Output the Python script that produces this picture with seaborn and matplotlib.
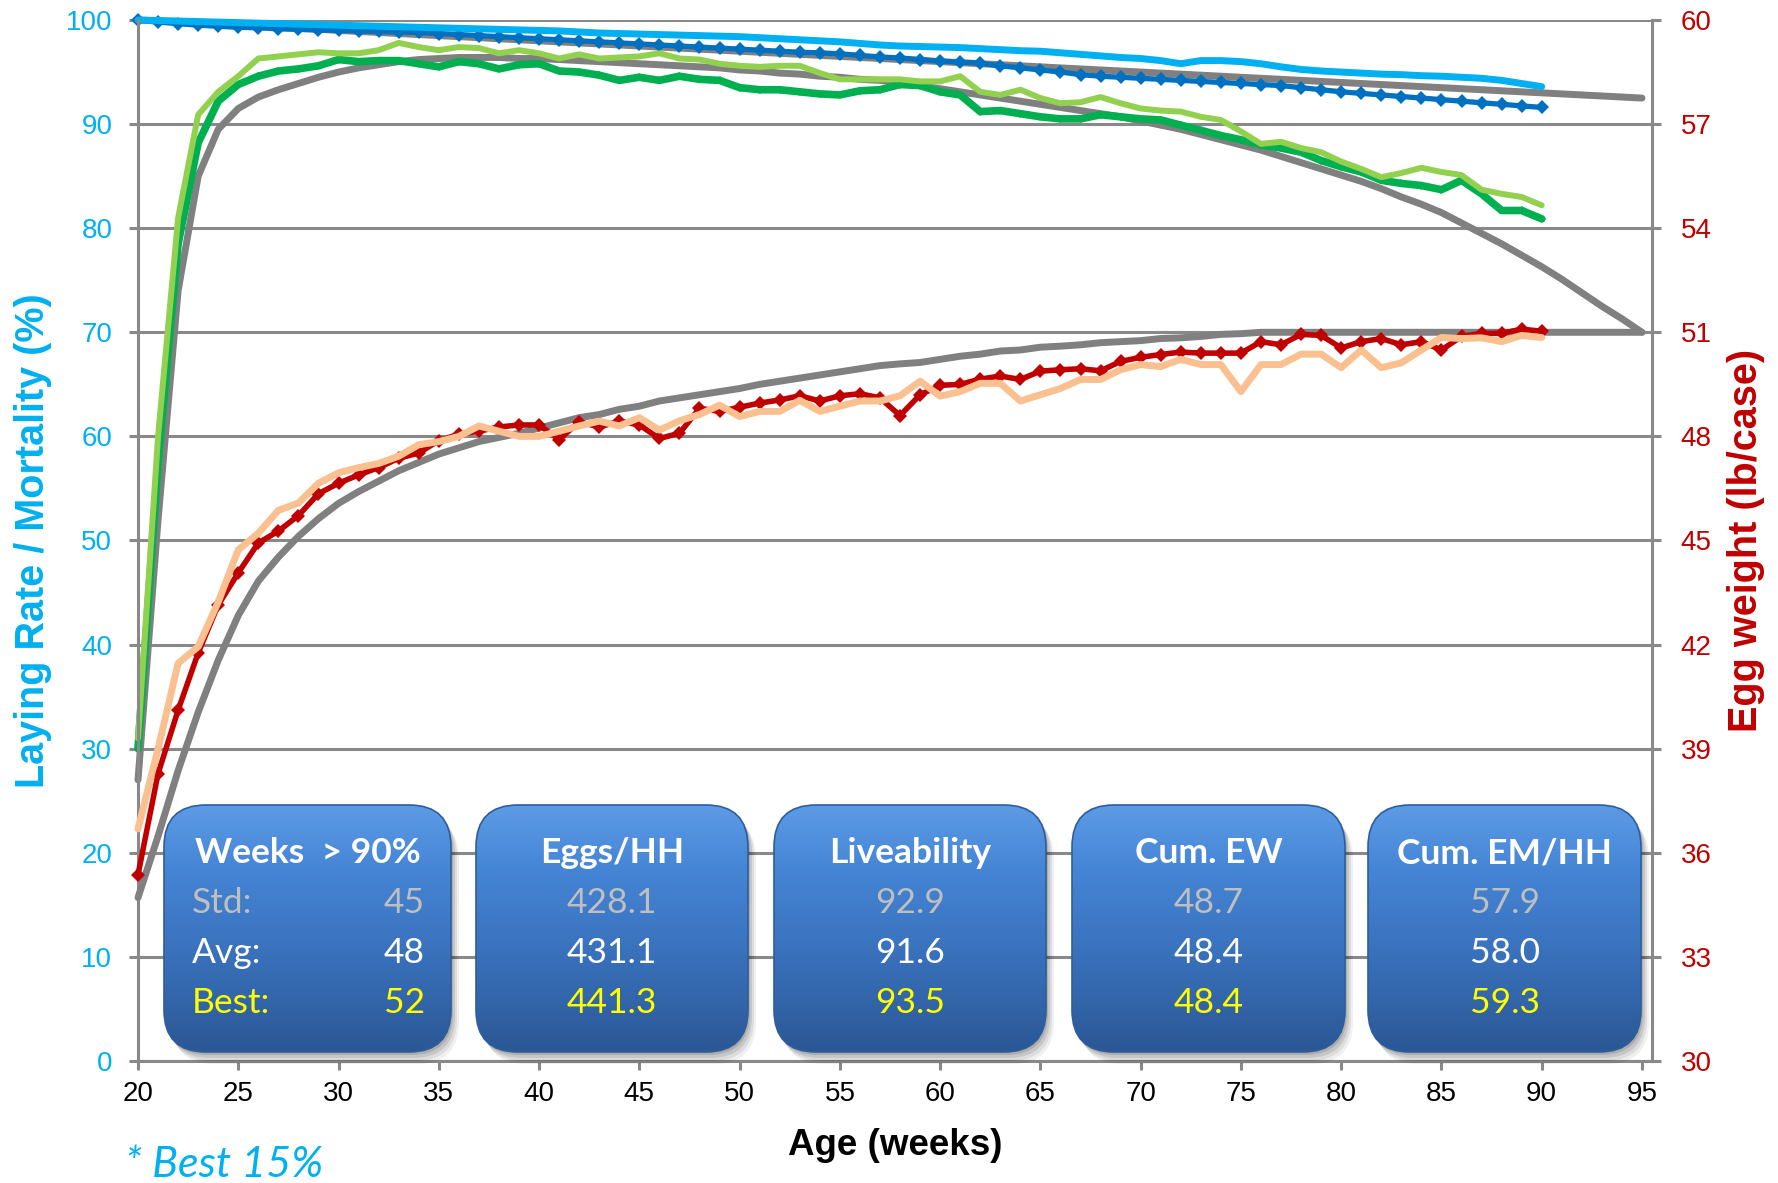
import numpy as np
import pandas as pd
import seaborn as sns
import matplotlib.pyplot as plt
from matplotlib.patches import FancyBboxPatch
from matplotlib.colors import LinearSegmentedColormap

# ages (weeks): flock data 20-90, standards 20-95
weeks = list(range(20, 91))
std_weeks = list(range(20, 96))

# laying rate (%)
lay_avg = [30.0, 57.5, 78.5, 88.2, 92.2, 93.8, 94.6, 95.1, 95.3, 95.6,
           96.2, 96.0, 96.1, 96.1, 95.8, 95.5, 96.0, 95.8, 95.3, 95.7,
           95.8, 95.1, 95.0, 94.7, 94.2, 94.5, 94.2, 94.6, 94.3, 94.2,
           93.5, 93.3, 93.3, 93.1, 92.9, 92.8, 93.2, 93.3, 93.8, 93.7,
           93.1, 92.8, 91.2, 91.3, 91.0, 90.7, 90.5, 90.5, 90.9, 90.7,
           90.5, 90.4, 89.9, 89.4, 88.9, 88.5, 88.0, 87.7, 87.3, 86.5,
           85.9, 85.4, 84.6, 84.3, 84.1, 83.7, 84.6, 83.3, 81.7, 81.7,
           80.9]
lay_best = [31.0, 60.0, 81.0, 90.9, 93.1, 94.6, 96.3, 96.5, 96.7, 96.9,
            96.8, 96.8, 97.1, 97.8, 97.4, 97.1, 97.4, 97.3, 96.8, 97.1,
            96.8, 96.3, 96.7, 96.3, 96.4, 96.5, 96.8, 96.3, 96.2, 95.8,
            95.6, 95.5, 95.6, 95.6, 94.9, 94.3, 94.3, 94.3, 94.3, 94.1,
            94.1, 94.6, 93.1, 92.8, 93.3, 92.5, 92.0, 92.1, 92.6, 92.0,
            91.5, 91.3, 91.2, 90.7, 90.4, 89.3, 88.1, 88.3, 87.7, 87.3,
            86.4, 85.7, 84.9, 85.3, 85.8, 85.4, 85.1, 83.7, 83.3, 83.0,
            82.2]
lay_std = [27.0, 52.0, 74.0, 85.0, 89.5, 91.5, 92.6, 93.3, 93.9, 94.5,
           95.0, 95.4, 95.7, 96.0, 96.2, 96.3, 96.4, 96.4, 96.4, 96.3,
           96.3, 96.2, 96.1, 96.0, 95.9, 95.8, 95.7, 95.6, 95.5, 95.4,
           95.2, 95.1, 94.9, 94.8, 94.6, 94.5, 94.3, 94.2, 94.0, 93.7,
           93.4, 93.1, 92.8, 92.5, 92.2, 91.9, 91.6, 91.3, 91.0, 90.7,
           90.3, 89.9, 89.5, 89.0, 88.5, 88.0, 87.5, 86.9, 86.3, 85.7,
           85.1, 84.5, 83.8, 83.0, 82.3, 81.5, 80.5, 79.5, 78.5, 77.4,
           76.3, 75.1, 73.8, 72.5, 71.3, 70.0]

# liveability (%)
live_avg = [100.0, 99.8, 99.65, 99.5, 99.4, 99.3, 99.25, 99.15, 99.1, 99.05,
            99.0, 98.95, 98.9, 98.85, 98.8, 98.7, 98.6, 98.5, 98.4, 98.3,
            98.2, 98.1, 98.0, 97.9, 97.8, 97.7, 97.6, 97.5, 97.4, 97.3,
            97.2, 97.1, 97.0, 96.9, 96.85, 96.75, 96.6, 96.45, 96.35, 96.2,
            96.05, 95.95, 95.85, 95.6, 95.4, 95.2, 95.0, 94.75, 94.6, 94.5,
            94.4, 94.3, 94.2, 94.1, 94.0, 93.9, 93.8, 93.7, 93.5, 93.3,
            93.1, 92.95, 92.8, 92.65, 92.5, 92.35, 92.2, 92.05, 91.9, 91.75,
            91.6]
live_best = [100.0, 99.95, 99.9, 99.85, 99.8, 99.75, 99.7, 99.65, 99.6, 99.55,
             99.5, 99.45, 99.4, 99.35, 99.3, 99.25, 99.2, 99.15, 99.1, 99.05,
             99.0, 98.95, 98.85, 98.75, 98.7, 98.65, 98.6, 98.55, 98.5, 98.45,
             98.4, 98.3, 98.2, 98.1, 98.0, 97.9, 97.75, 97.6, 97.5, 97.45,
             97.4, 97.35, 97.25, 97.15, 97.05, 97.0, 96.85, 96.7, 96.55, 96.4,
             96.3, 96.1, 95.8, 96.1, 96.1, 96.0, 95.8, 95.5, 95.25, 95.1,
             95.0, 94.9, 94.8, 94.75, 94.65, 94.6, 94.5, 94.4, 94.2, 93.9,
             93.6]
live_std = [100.0, 99.9, 99.8, 99.7, 99.6, 99.5, 99.4, 99.3, 99.2, 99.1,
            99.0, 98.9, 98.8, 98.7, 98.6, 98.5, 98.4, 98.3, 98.2, 98.1,
            98.0, 97.9, 97.8, 97.7, 97.6, 97.5, 97.4, 97.3, 97.2, 97.1,
            97.0, 96.9, 96.8, 96.7, 96.6, 96.5, 96.4, 96.3, 96.2, 96.1,
            96.0, 95.9, 95.8, 95.7, 95.6, 95.5, 95.4, 95.3, 95.2, 95.1,
            95.0, 94.9, 94.8, 94.7, 94.6, 94.5, 94.4, 94.3, 94.2, 94.1,
            94.0, 93.9, 93.8, 93.7, 93.6, 93.5, 93.4, 93.3, 93.2, 93.1,
            93.0, 92.9, 92.8, 92.7, 92.6, 92.5]

# egg weight (lb/case)
ew_avg = [35.37, 38.28, 40.11, 41.76, 43.14, 44.07, 44.93, 45.27, 45.72, 46.35,
          46.65, 46.89, 47.10, 47.37, 47.52, 47.88, 48.06, 48.15, 48.27, 48.33,
          48.33, 47.91, 48.42, 48.27, 48.44, 48.33, 47.94, 48.09, 48.81, 48.72,
          48.84, 48.96, 49.05, 49.17, 49.02, 49.17, 49.23, 49.11, 48.60, 49.20,
          49.47, 49.50, 49.65, 49.74, 49.64, 49.88, 49.92, 49.95, 49.89, 50.16,
          50.28, 50.36, 50.43, 50.40, 50.40, 50.40, 50.73, 50.64, 50.94, 50.91,
          50.55, 50.73, 50.82, 50.64, 50.73, 50.49, 50.88, 50.97, 50.97, 51.09,
          51.03]
ew_best = [36.69, 39.00, 41.46, 41.94, 43.23, 44.73, 45.21, 45.87, 46.08, 46.65,
           46.95, 47.10, 47.22, 47.43, 47.76, 47.85, 48.00, 48.30, 48.15, 48.00,
           48.00, 48.15, 48.30, 48.44, 48.30, 48.54, 48.18, 48.45, 48.63, 48.90,
           48.57, 48.72, 48.72, 49.04, 48.72, 48.87, 49.02, 49.02, 49.17, 49.59,
           49.16, 49.29, 49.53, 49.53, 49.02, 49.20, 49.38, 49.64, 49.64, 49.92,
           50.07, 50.01, 50.22, 50.07, 50.07, 49.29, 50.07, 50.07, 50.37, 50.37,
           49.98, 50.49, 49.98, 50.12, 50.49, 50.85, 50.82, 50.84, 50.73, 50.91,
           50.85]
ew_std = [34.71, 36.48, 38.37, 40.05, 41.55, 42.84, 43.83, 44.52, 45.12, 45.63,
          46.07, 46.41, 46.71, 47.01, 47.25, 47.49, 47.67, 47.85, 47.97, 48.09,
          48.24, 48.39, 48.54, 48.63, 48.78, 48.87, 49.02, 49.11, 49.20, 49.29,
          49.38, 49.50, 49.59, 49.68, 49.77, 49.86, 49.95, 50.04, 50.09, 50.13,
          50.22, 50.31, 50.37, 50.46, 50.49, 50.57, 50.60, 50.64, 50.70, 50.73,
          50.76, 50.82, 50.84, 50.88, 50.94, 50.96, 51.00, 51.00, 51.00, 51.00,
          51.00, 51.00, 51.00, 51.00, 51.00, 51.00, 51.00, 51.00, 51.00, 51.00,
          51.00, 51.00, 51.00, 51.00, 51.00, 51.00]

# summary boxes
box_titles = ["Weeks  > 90%", "Eggs/HH", "Liveability", "Cum. EW", "Cum. EM/HH"]
box_std = ["45", "428.1", "92.9", "48.7", "57.9"]
box_avg = ["48", "431.1", "91.6", "48.4", "58.0"]
box_best = ["52", "441.3", "93.5", "48.4", "59.3"]
row_names = ["Std:", "Avg:", "Best:"]

df = pd.DataFrame({"week": weeks, "lay_avg": lay_avg, "lay_best": lay_best,
                   "live_avg": live_avg, "live_best": live_best,
                   "ew_avg": ew_avg, "ew_best": ew_best})
dfs = pd.DataFrame({"week": std_weeks, "lay_std": lay_std,
                    "live_std": live_std, "ew_std": ew_std})

sns.set_style("white")
plt.rcParams['font.family'] = ['Liberation Sans', 'DejaVu Sans']

GREY = '#808080'
AXG = '#898989'
CYAN = '#00B0F0'
DRED = '#C00000'

fig = plt.figure(figsize=(17.78, 11.83), dpi=100)
ax = fig.add_axes([0.07762, 0.10313, 0.85152, 0.87997])
ax2 = ax.twinx()

# left axis: liveability and laying rate
sns.lineplot(data=dfs, x="week", y="live_std", ax=ax, color=GREY, lw=5, clip_on=False)
sns.lineplot(data=dfs, x="week", y="lay_std", ax=ax, color=GREY, lw=5, clip_on=False)
sns.lineplot(data=df, x="week", y="live_avg", ax=ax, color='#0070C0', lw=3.8,
             marker='D', markersize=7, markeredgewidth=0, clip_on=False)
sns.lineplot(data=df, x="week", y="live_best", ax=ax, color=CYAN, lw=5, clip_on=False)
sns.lineplot(data=df, x="week", y="lay_avg", ax=ax, color='#00B050', lw=5.5,
             marker='D', markersize=4.5, markeredgewidth=0, clip_on=False)
sns.lineplot(data=df, x="week", y="lay_best", ax=ax, color='#92D050', lw=4.3, clip_on=False)

# right axis: egg weight
sns.lineplot(data=dfs, x="week", y="ew_std", ax=ax2, color=GREY, lw=5, clip_on=False)
sns.lineplot(data=df, x="week", y="ew_avg", ax=ax2, color=DRED, lw=4,
             marker='D', markersize=7.5, markeredgewidth=0, clip_on=False)
sns.lineplot(data=df, x="week", y="ew_best", ax=ax2, color='#FAC090', lw=5, clip_on=False)

ax.set_xlim(20, 95.5)
ax.set_ylim(0, 100)
ax2.set_ylim(30, 60)
ax.set_xticks(range(20, 96, 5))
ax.set_yticks(range(0, 101, 10))
ax2.set_yticks(range(30, 61, 3))

ax.grid(axis='y', color=AXG, lw=2.2)
ax.grid(axis='x', visible=False)
ax.set_axisbelow(True)

for s in ['top', 'right']:
    ax.spines[s].set_visible(False)
for s in ['left', 'bottom']:
    ax.spines[s].set_color(AXG)
    ax.spines[s].set_linewidth(2.2)
for s in ['top', 'left', 'bottom']:
    ax2.spines[s].set_visible(False)
ax2.spines['right'].set_color(AXG)
ax2.spines['right'].set_linewidth(2.2)

ax.tick_params(axis='y', labelcolor=CYAN, color=AXG, length=6.5, width=2.2,
               direction='out', pad=12, labelsize=20, left=True)
ax.tick_params(axis='x', labelcolor='black', color=AXG, length=6.5, width=2.2,
               direction='out', pad=8, labelsize=20, bottom=True)
ax2.tick_params(axis='y', labelcolor=DRED, color=AXG, length=6.5, width=2.2,
                direction='out', pad=14, labelsize=20, right=True)

ax.set_xlabel("Age (weeks)", fontsize=26.5, fontweight='bold', color='black')
ax.xaxis.set_label_coords(0.5, -0.0807)
ax.xaxis.label.set_va('center')
ax.set_ylabel("Laying Rate / Mortality (%)", fontsize=28.5, fontweight='bold', color=CYAN)
ax.yaxis.set_label_coords(-0.0694, 0.5)
ax.yaxis.label.set_va('center')
ax2.set_ylabel("Egg weight (lb/case)", fontsize=28.5, fontweight='bold', color=DRED)
ax2.yaxis.set_label_coords(1.0621, 0.5)
ax2.yaxis.label.set_va('center')

# overlay in pixel coordinates for the summary boxes
lay = fig.add_axes([0, 0, 1, 1])
lay.set_zorder(10)
lay.patch.set_alpha(0)
lay.axis('off')

box_left = [164, 476, 774, 1072, 1368]
box_right = [451, 748, 1046, 1345, 1641]
box_top, box_bot = 805, 1052
row_y = [903, 953, 1003]
row_cols = ['#BFBFBF', 'white', '#FFFF00']
bfont = ['Lato', 'DejaVu Sans']

cmap = LinearSegmentedColormap.from_list(
    'box', ['#5D9BE6', '#4686D6', '#3D77C4', '#3468AE', '#2B5794'])
grad = np.linspace(0, 1, 256).reshape(-1, 1)

for i in range(5):
    x0, x1 = box_left[i], box_right[i]
    w, h = x1 - x0, box_bot - box_top
    style = 'round,pad=0,rounding_size=42'
    for dx, dy, a in [(8, 12, 0.06), (6, 9, 0.08), (4, 6, 0.10), (2, 3, 0.12)]:
        lay.add_patch(FancyBboxPatch((x0 + dx, box_top + dy), w, h, boxstyle=style,
                                     fc='black', ec='none', alpha=a, zorder=1))
    body = FancyBboxPatch((x0, box_top), w, h, boxstyle=style, fc='#3F7BC8',
                          ec='none', zorder=2)
    lay.add_patch(body)
    im = lay.imshow(grad, cmap=cmap, extent=(x0, x1, box_bot, box_top),
                    aspect='auto', interpolation='bilinear', zorder=3)
    im.set_clip_path(body)
    lay.add_patch(FancyBboxPatch((x0, box_top), w, h, boxstyle=style,
                                 fc='none', ec='#2D5E9E', lw=1.2, zorder=4))
    cx = (x0 + x1) / 2
    lay.text(cx, 853, box_titles[i], ha='center', va='center', color='white',
             fontsize=25.5, fontweight='bold', family=bfont, zorder=5)
    vals = [box_std[i], box_avg[i], box_best[i]]
    for j in range(3):
        if i == 0:
            lay.text(x0 + 28, row_y[j], row_names[j], ha='left', va='center',
                     color=row_cols[j], fontsize=25.5, family=bfont, zorder=5)
            lay.text(x1 - 26, row_y[j], vals[j], ha='right', va='center',
                     color=row_cols[j], fontsize=25.5, family=bfont, zorder=5)
        else:
            lay.text(cx, row_y[j], vals[j], ha='center', va='center',
                     color=row_cols[j], fontsize=25.5, family=bfont, zorder=5)

lay.text(125, 1165, "* Best 15%", ha='left', va='center', color=CYAN,
         fontsize=31, style='italic', family=bfont)

lay.set_xlim(0, 1778)
lay.set_ylim(1183, 0)

fig.savefig("out.png", dpi=100)
